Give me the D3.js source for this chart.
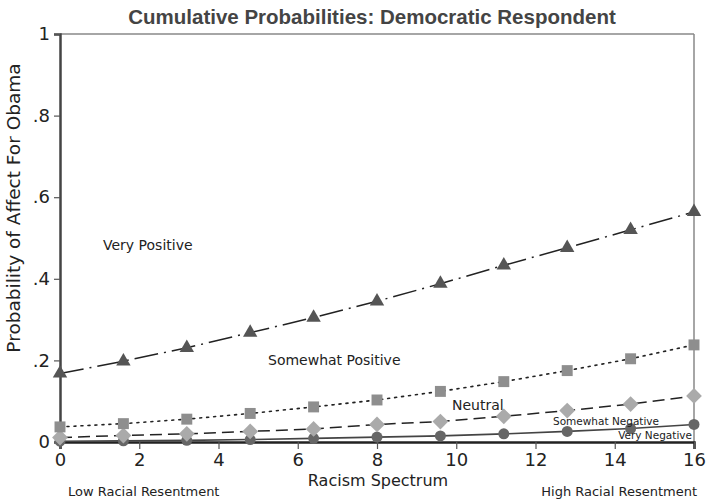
<!DOCTYPE html>
<html>
<head>
<meta charset="utf-8">
<script src="https://cdn.jsdelivr.net/npm/d3@7"></script>
<style>
  body { margin: 0; background: #fff; }
  svg { display: block; }
  text { font-family: "DejaVu Sans", "Lucida Grande", sans-serif; fill: #222; }
</style>
</head>
<body>
<svg id="chart" width="707" height="504"></svg>
<script>
// racism spectrum positions
var xs = [0, 1.6, 3.2, 4.8, 6.4, 8, 9.6, 11.2, 12.8, 14.4, 16];

// cumulative probabilities
var veryPositive     = [0.168, 0.198, 0.231, 0.268, 0.305, 0.345, 0.388, 0.433, 0.476, 0.520, 0.564];
var somewhatPositive = [0.037, 0.045, 0.056, 0.070, 0.086, 0.103, 0.124, 0.148, 0.175, 0.204, 0.238];
var neutral          = [0.011, 0.016, 0.020, 0.026, 0.032, 0.043, 0.050, 0.063, 0.077, 0.093, 0.113];
var veryNegative     = [0.002, 0.003, 0.004, 0.006, 0.009, 0.012, 0.015, 0.020, 0.026, 0.033, 0.043];

var xTicks = [0, 2, 4, 6, 8, 10, 12, 14, 16];
var yTicks = [0, 0.2, 0.4, 0.6, 0.8, 1];
var yTickLabels = ["0", ".2", ".4", ".6", ".8", "1"];

var svg = d3.select("#chart");

var x = d3.scaleLinear().domain([0, 16]).range([60, 694]);
var y = d3.scaleLinear().domain([0, 1]).range([442, 34]);

// title
svg.append("text")
    .attr("x", 372).attr("y", 24)
    .attr("text-anchor", "middle")
    .style("font-family", "'Liberation Sans', Arial, sans-serif")
    .style("font-weight", "bold")
    .style("font-size", "20.5px")
    .style("fill", "#444")
    .text("Cumulative Probabilities: Democratic Respondent");

// frame: top and right
svg.append("line")
    .attr("x1", x(0)).attr("x2", x(16)).attr("y1", y(1)).attr("y2", y(1))
    .attr("stroke", "#888").attr("stroke-width", 1.5);
svg.append("line")
    .attr("x1", x(16)).attr("x2", x(16)).attr("y1", y(1)).attr("y2", y(0))
    .attr("stroke", "#888").attr("stroke-width", 1.5);

// axes
var yAxis = svg.append("g")
    .attr("transform", "translate(" + x(0) + ",0)")
    .call(d3.axisLeft(y).tickValues(yTicks)
        .tickFormat(function(d, i) { return yTickLabels[i]; })
        .tickSize(6).tickPadding(4));
var xAxis = svg.append("g")
    .attr("transform", "translate(0," + y(0) + ")")
    .call(d3.axisBottom(x).tickValues(xTicks).tickSize(7).tickPadding(4));

[yAxis, xAxis].forEach(function(a) {
  a.select(".domain").attr("stroke", "#444").attr("stroke-width", 2.5);
  a.selectAll(".tick line").attr("stroke", "#555").attr("stroke-width", 1.2);
  a.selectAll(".tick text")
      .style("font-family", "'DejaVu Sans', sans-serif")
      .style("font-size", "18px").attr("fill", "#222");
});
xAxis.select(".domain").attr("stroke", "#222");

// axis titles
svg.append("text")
    .attr("transform", "translate(20,208) rotate(-90)")
    .attr("text-anchor", "middle")
    .style("font-size", "18.5px")
    .text("Probability of Affect For Obama");
svg.append("text")
    .attr("x", 378).attr("y", 486)
    .attr("text-anchor", "middle")
    .style("font-size", "16px")
    .text("Racism Spectrum");
svg.append("text")
    .attr("x", 68).attr("y", 496)
    .style("font-size", "13px")
    .text("Low Racial Resentment");
svg.append("text")
    .attr("x", 697).attr("y", 496)
    .attr("text-anchor", "end")
    .style("font-size", "13px")
    .text("High Racial Resentment");

var series = [
  { values: veryNegative, line: "#444", dash: null, width: 1.6, sym: d3.symbolCircle, size: 95, rot: 0, fill: "#666" },
  { values: neutral, line: "#222", dash: "12,6", width: 1.5, sym: d3.symbolSquare, size: 125, rot: 45, fill: "#aaa" },
  { values: somewhatPositive, line: "#222", dash: "2,5", width: 1.6, sym: d3.symbolSquare, size: 120, rot: 0, fill: "#8e8e8e" },
  { values: veryPositive, line: "#222", dash: "24,6,2,6", width: 1.5, sym: d3.symbolTriangle, size: 90, rot: 0, fill: "#555" }
];

var line = d3.line()
    .x(function(d) { return x(d[0]); })
    .y(function(d) { return y(d[1]); });

series.forEach(function(s) {
  var pts = xs.map(function(v, i) { return [v, s.values[i]]; });
  svg.append("path")
      .datum(pts)
      .attr("d", line)
      .attr("fill", "none")
      .attr("stroke", s.line)
      .attr("stroke-width", s.width)
      .attr("stroke-linecap", s.dash === "2,5" ? "round" : "butt")
      .attr("stroke-dasharray", s.dash);
  svg.selectAll(null)
      .data(pts)
      .enter().append("path")
      .attr("transform", function(d) {
        return "translate(" + x(d[0]) + "," + y(d[1]) + ") rotate(" + s.rot + ")";
      })
      .attr("d", d3.symbol().type(s.sym).size(s.size))
      .attr("fill", s.fill);
});

// region labels
var labels = [
  { t: "Very Positive", x: 103, y: 250, s: 14, a: "start" },
  { t: "Somewhat Positive", x: 268, y: 365, s: 14, a: "start" },
  { t: "Neutral", x: 452, y: 410, s: 14, a: "start" },
  { t: "Somewhat Negative", x: 553, y: 425, s: 10.5, a: "start" },
  { t: "Very Negative", x: 692, y: 439, s: 10.5, a: "end" }
];
svg.selectAll(".region")
    .data(labels)
    .enter().append("text")
    .attr("class", "region")
    .attr("x", function(d) { return d.x; })
    .attr("y", function(d) { return d.y; })
    .attr("text-anchor", function(d) { return d.a; })
    .style("font-size", function(d) { return d.s + "px"; })
    .text(function(d) { return d.t; });
</script>
</body>
</html>
